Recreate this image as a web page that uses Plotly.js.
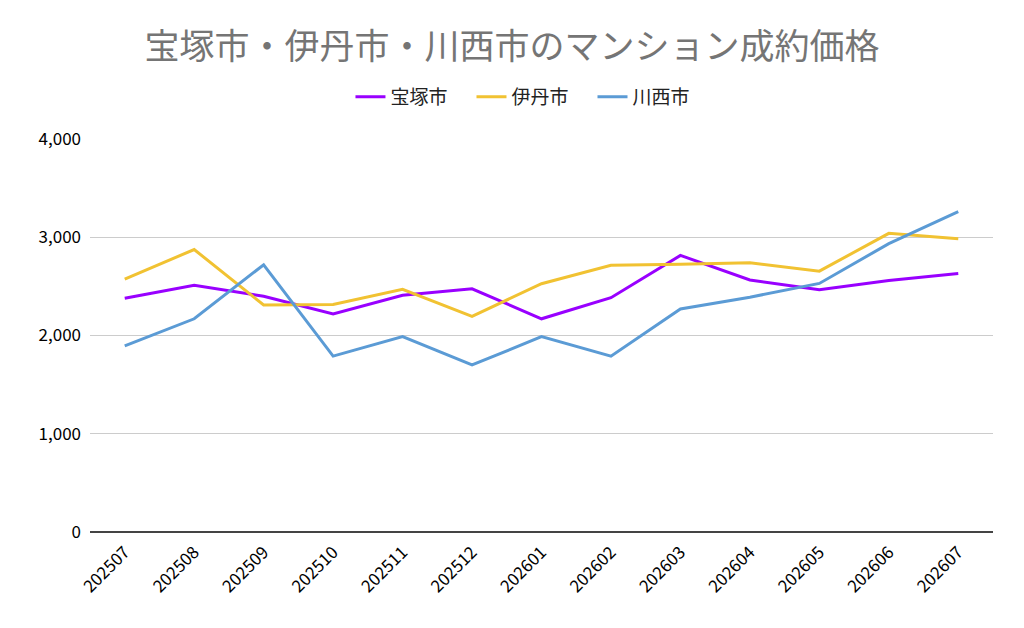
<!DOCTYPE html>
<html>
<head>
<meta charset="utf-8">
<script src="https://cdn.plot.ly/plotly-3.0.1.min.js"></script>
<style>
  html, body { margin: 0; padding: 0; background: #ffffff; }
  #chart { width: 1024px; height: 628px; }
</style>
</head>
<body>
<div id="chart"></div>
<script>
// 年月（カテゴリ）
const months = ['202507', '202508', '202509', '202510', '202511', '202512',
  '202601', '202602', '202603', '202604', '202605', '202606', '202607'];

// 各市の成約価格（万円、グラフから読み取り）
const takarazuka = [2380, 2510, 2400, 2220, 2410, 2475, 2170, 2385, 2815, 2565, 2465, 2560, 2630];
const itami      = [2575, 2875, 2310, 2315, 2470, 2195, 2527, 2715, 2725, 2740, 2655, 3040, 2985];
const kawanishi  = [1895, 2170, 2720, 1790, 1988, 1700, 1988, 1790, 2270, 2390, 2530, 2935, 3260];

const seriesNames = ['宝塚市', '伊丹市', '川西市'];
const seriesColors = ['#9900ff', '#f1c232', '#5b9bd5'];

const fontFamily = '"Noto Sans CJK JP", "Noto Sans", sans-serif';

const traces = [takarazuka, itami, kawanishi].map((vals, i) => ({
  x: months,
  y: vals,
  type: 'scatter',
  mode: 'lines',
  name: seriesNames[i] + '\u2003',
  line: { color: seriesColors[i], width: 3 }
}));

const layout = {
  width: 1024,
  height: 628,
  title: {
    text: '宝塚市・伊丹市・川西市のマンション成約価格',
    font: { family: fontFamily, size: 35, color: '#757575' },
    x: 0.5,
    xanchor: 'center',
    y: 0.925,
    yanchor: 'middle'
  },
  legend: {
    orientation: 'h',
    x: 0.49,
    xanchor: 'center',
    y: 1.107,
    yanchor: 'middle',
    font: { family: fontFamily, size: 19, color: '#222222' },
    itemwidth: 30
  },
  xaxis: {
    type: 'category',
    range: [-0.5, 12.5],
    tickangle: -45,
    tickfont: { family: fontFamily, size: 17, color: '#000000' },
    ticklabelstandoff: 6,
    showgrid: false,
    showline: false,
    ticks: ''
  },
  yaxis: {
    range: [0, 4000],
    tickvals: [0, 1000, 2000, 3000, 4000],
    tickformat: ',d',
    tickfont: { family: fontFamily, size: 17, color: '#000000' },
    ticklabelstandoff: 8,
    gridcolor: '#cccccc',
    gridwidth: 1,
    zeroline: true,
    zerolinecolor: '#444444',
    zerolinewidth: 2,
    ticks: '',
    ticklen: 0
  },
  margin: { t: 139, b: 96, l: 90, r: 31 },
  plot_bgcolor: '#ffffff',
  paper_bgcolor: '#ffffff',
  showlegend: true
};

Plotly.newPlot('chart', traces, layout, { displayModeBar: false, staticPlot: true });
</script>
</body>
</html>
